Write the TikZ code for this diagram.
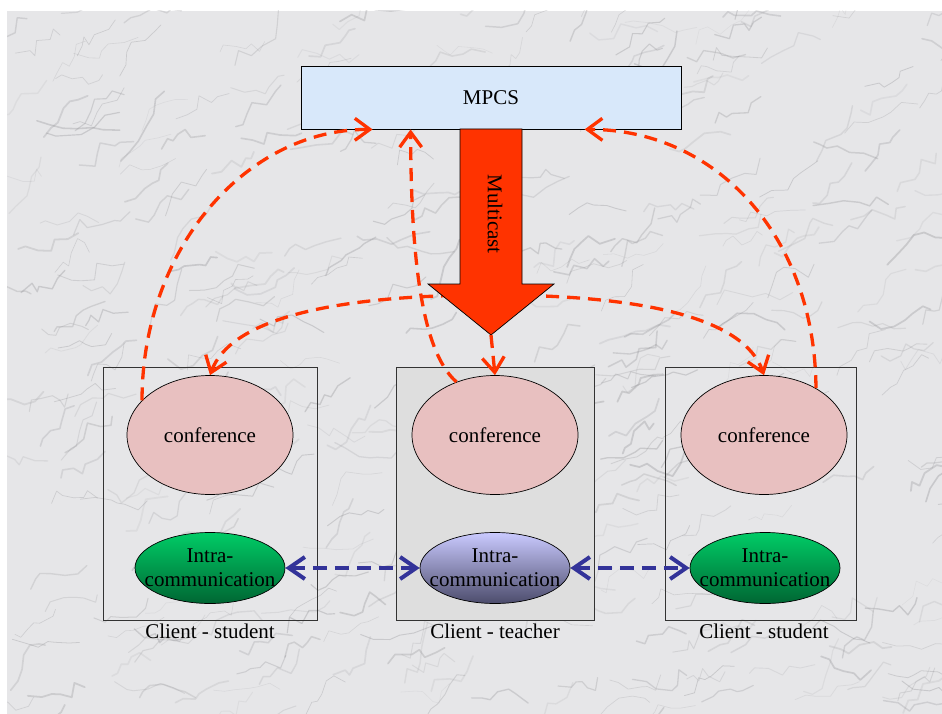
\documentclass[tikz,border=0pt]{standalone}
\usepackage{fontspec}
\setmainfont{Liberation Serif}
\usetikzlibrary{arrows.meta,shapes.geometric}

\definecolor{marble}{HTML}{E6E6E8}
\definecolor{vein}{HTML}{8A8A8E}
\definecolor{serverblue}{HTML}{D8E8FA}
\definecolor{confpink}{HTML}{E8C0C0}
\definecolor{teachergray}{HTML}{DEDEDE}
\definecolor{mcred}{HTML}{FF3300}
\definecolor{linkblue}{HTML}{333399}
\definecolor{greentop}{HTML}{00CC66}
\definecolor{greenbot}{HTML}{006633}
\definecolor{lavtop}{HTML}{CACAFF}
\definecolor{lavbot}{HTML}{4C4C6C}

\newcommand{\twoline}[2]{\makebox[0pt]{#1}\\\makebox[0pt]{#2}}

\begin{document}
\begin{tikzpicture}[x=1pt,y=-1pt,
  every node/.style={font=\fontsize{21}{24}\selectfont},
  server/.style={draw,line width=0.8pt,fill=serverblue,minimum width=380pt,minimum height=63pt,inner sep=0pt},
  clientbox/.style={draw=black!80,line width=0.8pt,minimum width=#1,minimum height=253pt,inner sep=0pt},
  conf/.style={ellipse,draw,line width=0.7pt,fill=confpink,minimum width=166pt,minimum height=119pt,inner sep=0pt},
  intra/.style={ellipse,draw,line width=0.7pt,minimum width=150pt,minimum height=71pt,inner sep=0pt,align=center},
  studentintra/.style={intra,top color=greentop,bottom color=greenbot},
  teacherintra/.style={intra,top color=lavtop,bottom color=lavbot},
  caption/.style={anchor=base,inner sep=0pt},
  reddash/.style={draw=mcred,line width=3.3pt,dash pattern=on 13pt off 8pt,
    arrows={-Straight Barb[length=15pt,width=22pt,line width=3.3pt]}},
  bluedash/.style={draw=linkblue,line width=4pt,dash pattern=on 14pt off 8pt,
    arrows={Straight Barb[length=16pt,width=22pt,line width=4pt]-Straight Barb[length=16pt,width=22pt,line width=4pt]}},
]
% page and marble backdrop
\useasboundingbox (0,0) rectangle (942,714);
\fill[white] (0,0) rectangle (942,714);
\fill[marble] (7,11) rectangle (942,714);
\begin{scope}
  \clip (7,11) rectangle (942,714);
  \pgfmathsetseed{42}
  \foreach \i in {1,...,420}{
    \pgfmathsetmacro{\px}{-20+980*rnd}
    \pgfmathsetmacro{\py}{11+730*rnd}
    \pgfmathsetmacro{\op}{0.10+0.22*rnd}
    \pgfmathsetmacro{\lw}{0.5+1.3*rnd}
    \draw[vein,opacity=\op,line width=\lw pt,line cap=round,line join=round]
      (\px,\py) \foreach \k in {1,...,6}{ -- ++({-22+60*rand}:{5+12*rnd}) };
  }
\end{scope}

% server
\node[server] (mpcs) at (491,97.5) {MPCS};

% client frames
\node[clientbox=214pt] (clientL) at (210,493.5) {};
\node[clientbox=198pt,fill=teachergray] (clientM) at (495,493.5) {};
\node[clientbox=191pt] (clientR) at (760.5,493.5) {};
\node[caption] (capL) at (210,638) {Client - student};
\node[caption] (capM) at (495,638) {Client - teacher};
\node[caption] (capR) at (764,638) {Client - student};

% conference ellipses
\node[conf] (confL) at (210,435) {conference};
\node[conf] (confM) at (495,435) {conference};
\node[conf] (confR) at (764,435) {conference};

% intra-communication ellipses (the text may run past the rim)
\node[studentintra] (intraL) at (210,568) {\twoline{Intra-}{communication}};
\node[teacherintra] (intraM) at (495,568) {\twoline{Intra-}{communication}};
\node[studentintra] (intraR) at (765,568) {\twoline{Intra-}{communication}};

% multicast fan-out to the student conferences (passes behind the big arrow)
\coordinate (hub) at (491,295);
\draw[reddash,arrows={Straight Barb[length=15pt,width=22pt,line width=3.3pt]-Straight Barb[length=15pt,width=22pt,line width=3.3pt]}]
  (confL.north) .. controls (230,320) and (330,295) .. (hub)
  .. controls (650,295) and (745,320) .. (confR.north);

% big multicast arrow
\fill[mcred,draw=black,line width=0.7pt]
  (460,129) -- (522,129) -- (522,284) -- (554,284) -- (491,335)
  -- (428,284) -- (460,284) -- cycle;
\coordinate (mctip) at (491,335);
\node[rotate=-90] (multicast) at (495,214) {Multicast};

% arrow tip down to the teacher conference
\draw[reddash] (mctip) -- (confM.north);

% replies back to the server
\draw[reddash] (confL.153) .. controls (142,250) and (245,129) .. ([xshift=72pt]mpcs.south west);
\draw[reddash] (confM.126) .. controls (420,350) and (411,250) .. ([xshift=110pt]mpcs.south west);
\draw[reddash] (confR.42) .. controls (815,235) and (715,129) .. ([xshift=284pt]mpcs.south west);

% intra-communication links
\draw[bluedash] (intraL.east) -- (intraM.west);
\draw[bluedash] (intraM.east) -- (intraR.west);
\end{tikzpicture}
\end{document}
